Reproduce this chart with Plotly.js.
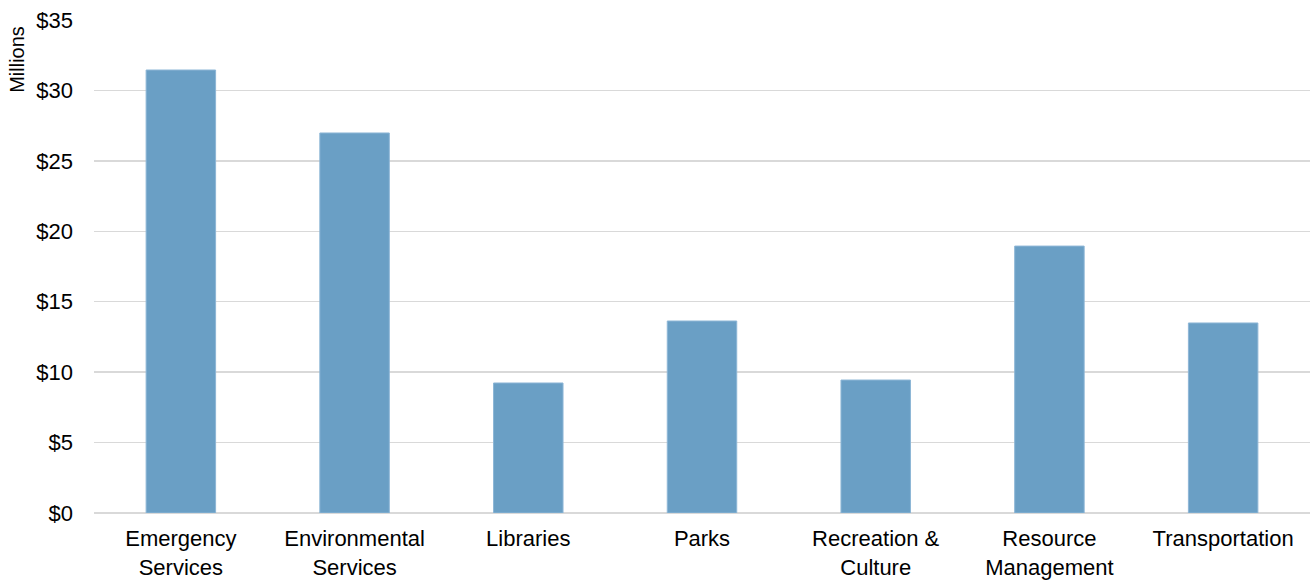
<!DOCTYPE html>
<html>
<head>
<meta charset="utf-8">
<script src="https://cdn.plot.ly/plotly-3.0.1.min.js"></script>
<style>html,body{margin:0;padding:0;background:#fff;}#chart{width:1310px;height:580px;}</style>
</head>
<body>
<div id="chart"></div>
<script>
const categories = ["Emergency<br>Services", "Environmental<br>Services", "Libraries", "Parks", "Recreation &amp;<br>Culture", "Resource<br>Management", "Transportation"];
const values = [31.45, 26.98, 9.23, 13.63, 9.44, 18.95, 13.49];
const yTicks = [0, 5, 10, 15, 20, 25, 30, 35];
const yTickLabels = yTicks.map(v => "$" + v);

const trace = {
  type: "bar",
  x: categories,
  y: values,
  marker: {color: "#6a9fc5", line: {color: "#8db6d6", width: 1}},
  width: 0.4,
  hoverinfo: "x+y"
};

const layout = {
  width: 1310,
  height: 580,
  margin: {l: 94, r: 0, t: 20, b: 67},
  paper_bgcolor: "#ffffff",
  plot_bgcolor: "#ffffff",
  font: {family: "Liberation Sans, Arial, sans-serif", size: 22, color: "#000000"},
  showlegend: false,
  xaxis: {
    type: "category",
    showgrid: false,
    showline: false,
    ticks: "",
    ticklabelstandoff: 10,
    tickfont: {size: 22, color: "#000000"},
    automargin: false
  },
  yaxis: {
    range: [0, 35],
    tickmode: "array",
    tickvals: yTicks,
    ticktext: yTickLabels,
    showgrid: true,
    gridcolor: "#d9d9d9",
    gridwidth: 1.5,
    zeroline: true,
    zerolinecolor: "#d9d9d9",
    zerolinewidth: 1.5,
    showline: false,
    ticks: "",
    ticklabelstandoff: 20,
    tickfont: {size: 22, color: "#000000"},
    automargin: false
  },
  annotations: [{
    text: "Millions",
    xref: "paper", yref: "paper",
    x: -0.063, y: 0.92,
    xanchor: "center", yanchor: "middle",
    textangle: -90,
    showarrow: false,
    font: {size: 20, color: "#000000"}
  }]
};

Plotly.newPlot("chart", [trace], layout, {displayModeBar: false, staticPlot: true});
</script>
</body>
</html>
